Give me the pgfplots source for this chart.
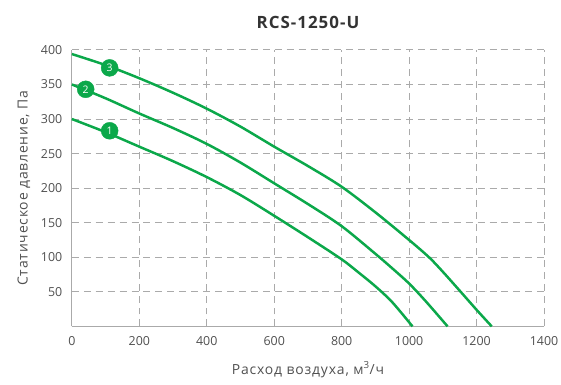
\documentclass[border=0pt]{standalone}
\usepackage{fontspec}
\setmainfont{Open Sans}
\newfontfamily\labelfont[LetterSpace=6]{Open Sans}
\newfontfamily\titlefont[LetterSpace=6]{Open Sans}
\usepackage{pgfplots}
\pgfplotsset{compat=1.18}
\definecolor{curve}{HTML}{0BA84A}
\definecolor{gridc}{HTML}{AAAAAA}
\definecolor{txt}{HTML}{505050}
\begin{document}
\begin{tikzpicture}
\begin{axis}[
  scale only axis,
  width=473bp, height=277bp,
  xmin=0, xmax=1400, ymin=0, ymax=400,
  xtick={0,200,...,1400},
  ytick={50,100,...,400},
  axis lines=left,
  axis line style={draw=gridc, line width=0.9pt, -},
  tick style={draw=none},
  grid=major,
  major grid style={gridc, line width=0.9pt, dash pattern=on 7pt off 5pt},
  ticklabel style={font=\fontsize{12.5}{14}\selectfont, text=txt},
  /pgf/number format/assume math mode=true,
  /pgf/number format/1000 sep={},
  xticklabel style={yshift=-4pt},
  yticklabel style={xshift=-4pt},
  xlabel={Расход воздуха, м\textsuperscript{3}/ч},
  ylabel={Статическое давление, Па},
  label style={font=\labelfont\fontsize{14}{16}\selectfont, text=txt},
  xlabel style={yshift=-10pt},
  ylabel style={yshift=4pt},
  title={\titlefont\bfseries RCS-1250-U},
  title style={font=\fontsize{17}{19}\selectfont, text=black!80, yshift=12pt},
  clip=false,
]
% curve 1
\addplot[curve, line width=2.5pt, smooth] coordinates {
  (0,300) (100,281) (200,260) (300,239) (400,216) (500,190) (600,160) (700,129)
  (800,97) (850,78) (900,58) (950,35) (1010,0)
};
% curve 2
\addplot[curve, line width=2.5pt, smooth] coordinates {
  (0,350) (100,330) (200,308) (300,287) (400,264) (500,237) (600,207) (700,177)
  (800,145) (900,105) (950,84) (1000,62) (1050,36) (1114,0)
};
% curve 3
\addplot[curve, line width=2.5pt, smooth] coordinates {
  (0,394) (100,378) (200,359) (300,338) (400,315) (500,289) (600,260) (700,232)
  (800,202) (900,165) (1000,125) (1059,100) (1100,79) (1153,50) (1200,24) (1245,0)
};
% curve numbers
\addplot[only marks, mark=*, mark size=8.5bp, mark options={fill=curve, draw=curve},
  point meta=explicit symbolic, nodes near coords,
  every node near coord/.append style={anchor=center, text=white, font=\fontsize{10.5}{12}\selectfont}]
  coordinates {(112,283) [1] (41,343) [2] (112,374) [3]};
\end{axis}
\pgfresetboundingbox
\path ([shift={(-72bp,-58.5bp)}]current axis.south west) rectangle ([shift={(17bp,50bp)}]current axis.north east);
\end{tikzpicture}
\end{document}
